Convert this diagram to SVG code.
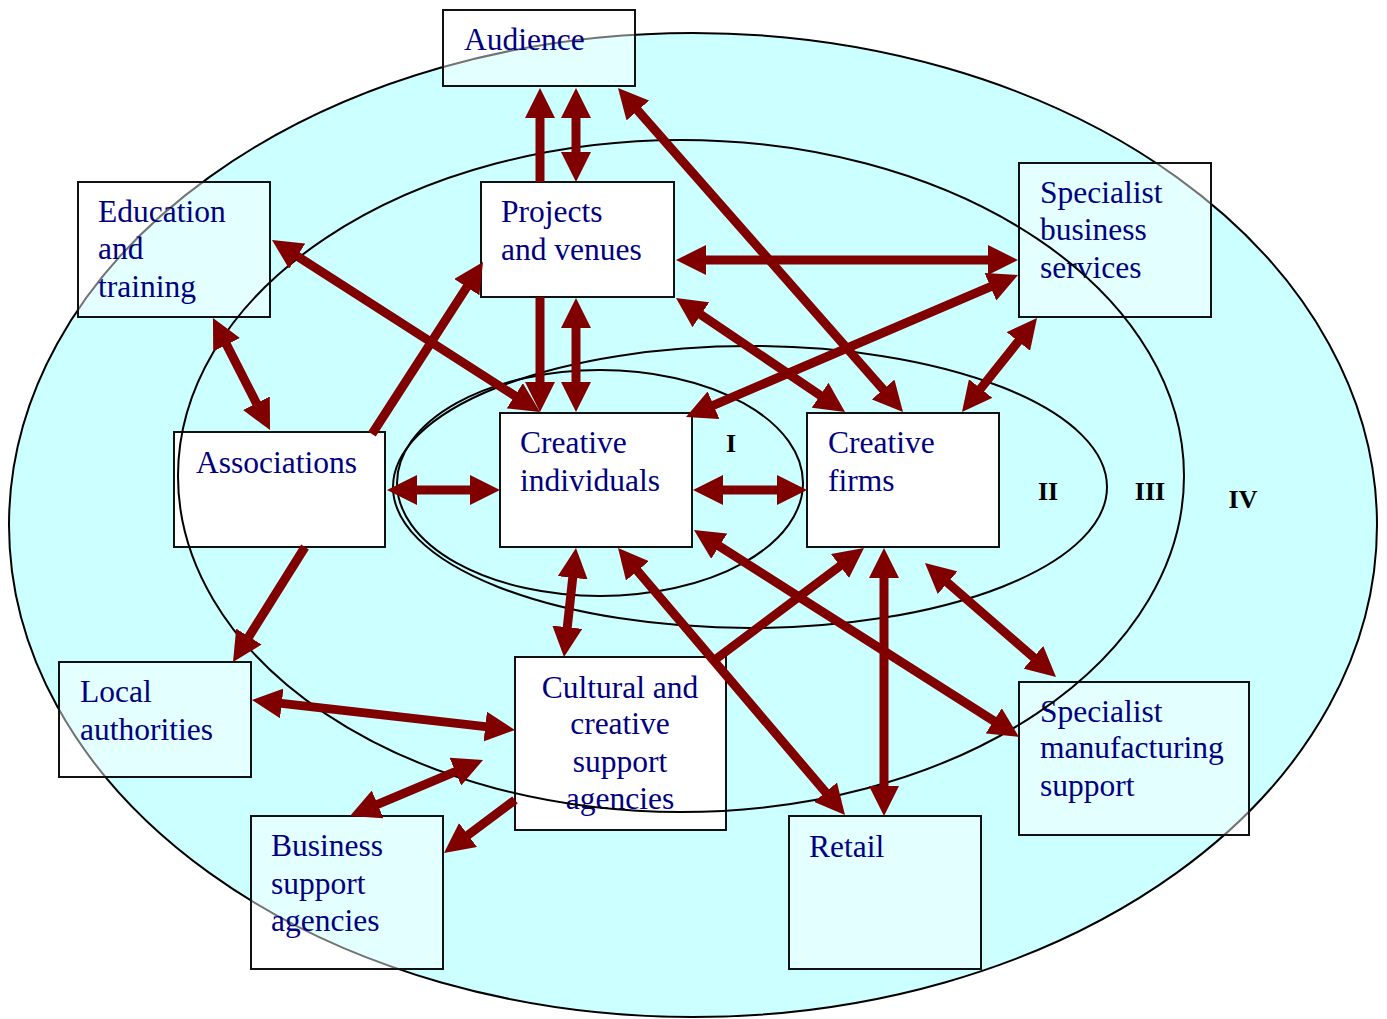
<svg xmlns="http://www.w3.org/2000/svg" width="1387" height="1019" viewBox="0 0 1387 1019">
<style>
.box{stroke:#111;stroke-width:2}
.w{fill:#fff}
.t{fill:#fff;fill-opacity:0.45}
.lbl{font-family:"Liberation Serif","Times New Roman",serif;font-size:31.5px;fill:#000080}
.num{font-family:"Liberation Serif","Times New Roman",serif;font-size:26px;font-weight:bold;fill:#000}
.ring{fill:none;stroke:#000;stroke-width:2}
.arr{stroke:#800000;stroke-width:9;fill:none}
</style>
<defs>
<marker id="h" markerUnits="userSpaceOnUse" markerWidth="30" markerHeight="30" refX="20" refY="15" orient="auto-start-reverse" viewBox="0 0 30 30">
<path d="M0,0 L30,15 L0,30 Z" fill="#800000"/>
</marker>
</defs>
<rect width="1387" height="1019" fill="#fff"/>
<ellipse cx="693" cy="525" rx="684" ry="492" fill="#CCFFFF" stroke="#000" stroke-width="2"/>

<g id="audience"><rect class="box t" x="443" y="10" width="192" height="76"/><text class="lbl" x="464" y="50">Audience</text></g>
<g id="education"><rect class="box t" x="78" y="182" width="192" height="135"/><text class="lbl" x="98" y="222">Education</text><text class="lbl" x="98" y="259">and</text><text class="lbl" x="98" y="297">training</text></g>
<g id="projects"><rect class="box w" x="481" y="182" width="193" height="115"/><text class="lbl" x="501" y="222">Projects</text><text class="lbl" x="501" y="260">and venues</text></g>
<g id="sbs"><rect class="box t" x="1019" y="163" width="192" height="154"/><text class="lbl" x="1040" y="203">Specialist</text><text class="lbl" x="1040" y="240">business</text><text class="lbl" x="1040" y="278">services</text></g>
<g id="associations"><rect class="box w" x="174" y="432" width="211" height="115"/><text class="lbl" x="196" y="473">Associations</text></g>
<g id="individuals"><rect class="box w" x="500" y="413" width="192" height="134"/><text class="lbl" x="520" y="453">Creative</text><text class="lbl" x="520" y="491">individuals</text></g>
<g id="firms"><rect class="box w" x="807" y="413" width="192" height="134"/><text class="lbl" x="828" y="453">Creative</text><text class="lbl" x="828" y="491">firms</text></g>
<g id="local"><rect class="box t" x="59" y="662" width="192" height="115"/><text class="lbl" x="80" y="702">Local</text><text class="lbl" x="80" y="740">authorities</text></g>
<g id="cultural"><rect class="box w" x="515" y="657" width="211" height="173"/><text class="lbl" x="620" y="698" text-anchor="middle">Cultural and</text><text class="lbl" x="620" y="734" text-anchor="middle">creative</text><text class="lbl" x="620" y="772" text-anchor="middle">support</text><text class="lbl" x="620" y="809" text-anchor="middle">agencies</text></g>
<g id="business"><rect class="box t" x="251" y="816" width="192" height="153"/><text class="lbl" x="271" y="856">Business</text><text class="lbl" x="271" y="894">support</text><text class="lbl" x="271" y="931">agencies</text></g>
<g id="retail"><rect class="box t" x="789" y="816" width="192" height="153"/><text class="lbl" x="809" y="857">Retail</text></g>
<g id="sms"><rect class="box t" x="1019" y="682" width="230" height="153"/><text class="lbl" x="1040" y="722">Specialist</text><text class="lbl" x="1040" y="758">manufacturing</text><text class="lbl" x="1040" y="796">support</text></g>

<g id="rings">
<ellipse class="ring" cx="681" cy="476" rx="503" ry="336"/>
<ellipse class="ring" cx="750" cy="487" rx="357" ry="141"/>
<ellipse class="ring" cx="600" cy="483" rx="203" ry="113"/>
<text class="num" x="731" y="452" text-anchor="middle">I</text>
<text class="num" x="1048" y="500" text-anchor="middle">II</text>
<text class="num" x="1150" y="500" text-anchor="middle">III</text>
<text class="num" x="1243" y="508" text-anchor="middle">IV</text>
</g>

<g id="connectors">
<line class="arr" x1="540" y1="182" x2="540" y2="98" marker-end="url(#h)"/>
<line class="arr" x1="576" y1="98" x2="576" y2="172" marker-start="url(#h)" marker-end="url(#h)"/>
<line class="arr" x1="624.6" y1="95.5" x2="896.4" y2="404.5" marker-start="url(#h)" marker-end="url(#h)"/>
<line class="arr" x1="280.4" y1="245.4" x2="531.6" y2="406.6" marker-start="url(#h)" marker-end="url(#h)"/>
<line class="arr" x1="217.5" y1="326.9" x2="265.5" y2="421.1" marker-start="url(#h)" marker-end="url(#h)"/>
<line class="arr" x1="372" y1="434" x2="477.6" y2="270.4" marker-end="url(#h)"/>
<line class="arr" x1="540" y1="297" x2="540" y2="402" marker-end="url(#h)"/>
<line class="arr" x1="576" y1="308" x2="576" y2="402" marker-start="url(#h)" marker-end="url(#h)"/>
<line class="arr" x1="686" y1="260" x2="1008" y2="260" marker-start="url(#h)" marker-end="url(#h)"/>
<line class="arr" x1="684.3" y1="303.6" x2="836.7" y2="406.4" marker-start="url(#h)" marker-end="url(#h)"/>
<line class="arr" x1="1008.8" y1="278.9" x2="695.2" y2="413.1" marker-start="url(#h)" marker-end="url(#h)"/>
<line class="arr" x1="1030.8" y1="325.8" x2="968.2" y2="404.2" marker-start="url(#h)" marker-end="url(#h)"/>
<line class="arr" x1="397" y1="490" x2="490" y2="490" marker-start="url(#h)" marker-end="url(#h)"/>
<line class="arr" x1="703" y1="490" x2="797" y2="490" marker-start="url(#h)" marker-end="url(#h)"/>
<line class="arr" x1="305" y1="547" x2="238.3" y2="653.5" marker-end="url(#h)"/>
<line class="arr" x1="261.9" y1="701.1" x2="505.1" y2="728.9" marker-start="url(#h)" marker-end="url(#h)"/>
<line class="arr" x1="574.9" y1="557.9" x2="565.1" y2="647.1" marker-start="url(#h)" marker-end="url(#h)"/>
<line class="arr" x1="712" y1="662" x2="856" y2="554" marker-end="url(#h)"/>
<line class="arr" x1="624.5" y1="555.6" x2="838.5" y2="807.4" marker-start="url(#h)" marker-end="url(#h)"/>
<line class="arr" x1="702.4" y1="535.4" x2="1010.6" y2="731.6" marker-start="url(#h)" marker-end="url(#h)"/>
<line class="arr" x1="884" y1="558" x2="884" y2="806" marker-start="url(#h)" marker-end="url(#h)"/>
<line class="arr" x1="932.5" y1="569.6" x2="1048.5" y2="670.4" marker-start="url(#h)" marker-end="url(#h)"/>
<line class="arr" x1="473.8" y1="763.9" x2="359.2" y2="812.1" marker-start="url(#h)" marker-end="url(#h)"/>
<line class="arr" x1="515" y1="800" x2="452" y2="847" marker-end="url(#h)"/>
</g>
</svg>
